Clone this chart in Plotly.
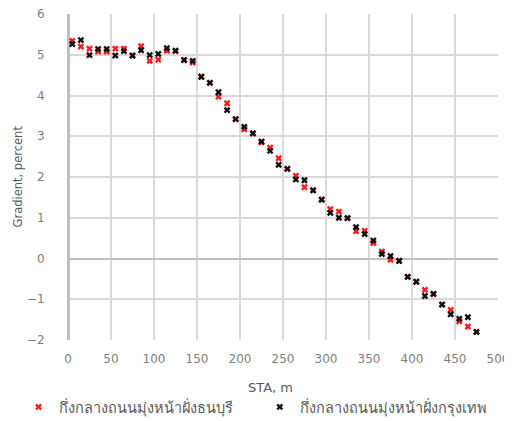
import plotly.graph_objects as go

sta = [5, 15, 25, 35, 45, 55, 65, 75, 85, 95, 105, 115, 125, 135, 145, 155,
       165, 175, 185, 195, 205, 215, 225, 235, 245, 255, 265, 275, 285, 295,
       305, 315, 325, 335, 345, 355, 365, 375, 385, 395, 405, 415, 425, 435,
       445, 455, 465, 475]

thonburi = [5.34, 5.20, 5.15, 5.08, 5.08, 5.15, 5.15, 4.98, 5.21, 4.85,
            4.88, 5.10, 5.09, 4.87, 4.81, 4.46, 4.31, 3.97, 3.81, 3.42,
            3.17, 3.07, 2.85, 2.72, 2.46, 2.20, 2.03, 1.75, 1.68, 1.45,
            1.21, 1.15, 0.99, 0.67, 0.68, 0.38, 0.17, -0.03, -0.06, -0.45,
            -0.57, -0.77, -0.87, -1.13, -1.26, -1.54, -1.67, -1.80]

bangkok = [5.26, 5.36, 4.99, 5.14, 5.14, 4.98, 5.09, 4.98, 5.11, 4.99,
           5.02, 5.16, 5.10, 4.87, 4.85, 4.46, 4.31, 4.08, 3.64, 3.42,
           3.23, 3.07, 2.87, 2.64, 2.30, 2.20, 1.94, 1.92, 1.67, 1.44,
           1.12, 1.00, 0.99, 0.77, 0.60, 0.44, 0.11, 0.06, -0.06, -0.45,
           -0.57, -0.92, -0.87, -1.13, -1.37, -1.48, -1.44, -1.80]

names = ["กึ่งกลางถนนมุ่งหน้าฝั่งธนบุรี", "กึ่งกลางถนนมุ่งหน้าฝั่งกรุงเทพ"]
x_title = "STA, m"
y_title = "Gradient, percent"

FONT = "DejaVu Sans, Noto Sans, sans-serif"
GRID = "#d9d9d9"
AX = "#bfbfbf"
TICK = "#7f7f7f"
TEXT = "#595959"

fig = go.Figure()
fig.add_trace(go.Scatter(x=sta, y=thonburi, mode="markers", name=names[0],
                         legend="legend",
                         marker=dict(symbol="x", size=6, color="#ff1a1a",
                                     line=dict(width=0))))
fig.add_trace(go.Scatter(x=sta, y=bangkok, mode="markers", name=names[1],
                         legend="legend2",
                         marker=dict(symbol="x", size=6, color="#111111",
                                     line=dict(width=0))))

leg_common = dict(orientation="h", xanchor="left", y=-0.2055, yanchor="middle",
                  font=dict(size=14.5, color=TEXT), itemsizing="trace",
                  bgcolor="rgba(0,0,0,0)", borderwidth=0)

fig.update_layout(
    width=504, height=413,
    margin=dict(l=60, r=14, t=6, b=81, autoexpand=False),
    paper_bgcolor="white", plot_bgcolor="white",
    font=dict(family=FONT, color=TEXT, size=12),
    showlegend=True,
    legend=dict(x=-0.115, **leg_common),
    legend2=dict(x=0.446, **leg_common),
    annotations=[
        dict(text=x_title, xref="paper", yref="paper", x=0.472, y=0,
             xanchor="center", yanchor="middle", yshift=-47, showarrow=False,
             font=dict(size=13, color=TEXT)),
        dict(text=y_title, xref="paper", yref="paper", x=0, y=0.5,
             xanchor="center", yanchor="middle", xshift=-50.5, textangle=-90,
             showarrow=False, font=dict(size=11.5, color=TEXT)),
    ],
)
fig.update_xaxes(range=[0, 500], dtick=50, tick0=0, showgrid=True,
                 gridcolor=GRID, gridwidth=1.5, zeroline=True,
                 zerolinecolor=AX, zerolinewidth=2.5, showline=False,
                 ticks="outside", ticklen=8, tickcolor="rgba(0,0,0,0)",
                 ticklabeloverflow="allow",
                 tickfont=dict(size=12, color=TICK))
fig.update_yaxes(range=[-2, 6], dtick=1, tick0=0, showgrid=True,
                 gridcolor=GRID, gridwidth=1.5, zeroline=True,
                 zerolinecolor=AX, zerolinewidth=2, showline=False,
                 ticks="outside", ticklen=20, tickcolor="rgba(0,0,0,0)",
                 ticklabeloverflow="allow",
                 tickfont=dict(size=12, color=TICK))

fig.write_html("out.html")
